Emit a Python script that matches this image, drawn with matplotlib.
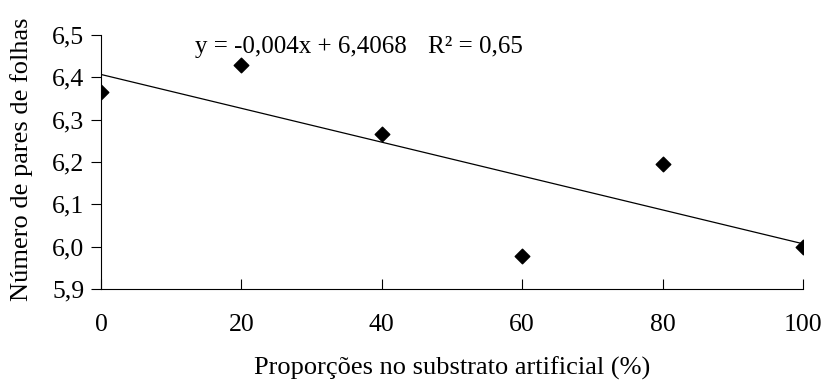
import numpy as np
import matplotlib.pyplot as plt

plt.rcParams['font.family'] = ['Liberation Serif', 'DejaVu Serif']

prop = [0, 20, 40, 60, 80, 100]
pares = [6.365, 6.43, 6.267, 5.977, 6.195, 6.0]
slope, intercept = -0.004, 6.4068
xticks = [0, 20, 40, 60, 80, 100]
yticks = [5.9, 6.0, 6.1, 6.2, 6.3, 6.4, 6.5]

fig = plt.figure(figsize=(8.25, 3.88), dpi=100)
ax = fig.add_axes([101 / 825, 1 - 289 / 388, 702 / 825, 254 / 388])

xl = np.array([0, 100])
ax.plot(xl, slope * xl + intercept, color='black', lw=0.9)
ax.scatter(prop, pares, marker='D', s=55, color='black', zorder=3)

ax.set_xlim(0, 100)
ax.set_ylim(5.9, 6.5)
ax.set_xticks(xticks)
ax.set_xticklabels([str(v) for v in xticks])
ax.set_yticks(yticks)
ax.set_yticklabels([f'{v:.1f}'.replace('.', ',') for v in yticks])
ax.tick_params(axis='x', direction='in', length=7, labelsize=18.5, pad=18)
ax.tick_params(axis='y', direction='out', length=7, labelsize=18.5, pad=5)
for s in ['top', 'right']:
    ax.spines[s].set_visible(False)
ax.set_clip_on(False)

ax.text(13.4, 6.472, 'y = -0,004x + 6,4068', fontsize=18, va='center')
ax.text(46.6, 6.472, 'R² = 0,65', fontsize=18, va='center')
ax.set_xlabel('Proporções no substrato artificial (%)', fontsize=19, labelpad=15)
ax.set_ylabel('Número de pares de folhas', fontsize=19)
ax.yaxis.set_label_coords(-0.097, 0.51)

fig.savefig('out.png', dpi=100)
